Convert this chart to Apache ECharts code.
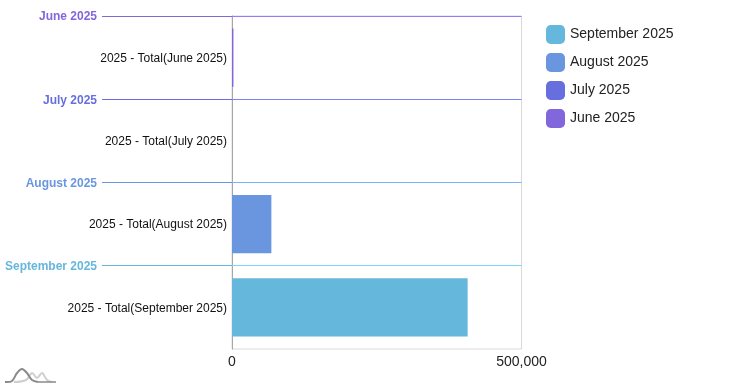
<!DOCTYPE html>
<html><head><meta charset="utf-8">
<style>html,body{margin:0;padding:0;background:#fff}#c{width:753px;height:388px}</style>
<script src="https://cdn.jsdelivr.net/npm/echarts@6/dist/echarts.min.js"></script>
</head><body><div id="c"></div>
<script>
const months = ['June 2025','July 2025','August 2025','September 2025'];
const categories = ['2025 - Total(June 2025)','2025 - Total(July 2025)','2025 - Total(August 2025)','2025 - Total(September 2025)'];
const values = [2500,0,68000,407000];
const colors = ['#8266dc','#676fdf','#6a96e0','#66b7dc'];
const legendOrder = ['September 2025','August 2025','July 2025','June 2025'];
const axisMax = 500000;
const font = '"Liberation Sans", Arial, sans-serif';

const barSeries = months.map((m,i)=>({
  name:m,type:'bar',stack:'t',barWidth:'70%',z:4,
  data:categories.map((_,j)=>j===i?values[i]:null),
  itemStyle:{color:colors[i],opacity:1},
  silent:true
}));

const headerSeries = {
  type:'custom',silent:true,clip:false,z:5,legendHoverLink:false,
  encode:{y:0},
  data:months.map((m,i)=>[categories[i],i]),
  renderItem(params,api){
    const i=api.value(1);
    const mid=api.coord([0,i]);
    const band=api.size([0,1])[1];
    const top=mid[1]-band/2;
    const y=Math.floor(top)+0.5;
    const x0=mid[0];
    const x1=api.coord([axisMax,i])[0];
    return {type:'group',silent:true,children:[
      {type:'line',shape:{x1:x0-130,y1:y,x2:x0,y2:y},style:{stroke:colors[i],lineWidth:1}},
      {type:'line',shape:{x1:x0,y1:y,x2:x1,y2:y},style:{stroke:echarts.color.lift(colors[i],-0.18),lineWidth:1}},
      {type:'text',x:x0-135,y:Math.ceil(top)+0.5,style:{text:months[i],fill:colors[i],font:'bold 12px '+font,align:'right',verticalAlign:'middle'}},
      {type:'text',x:x0-5,y:mid[1]+1,style:{text:categories[i],fill:'#111',font:'12px '+font,align:'right',verticalAlign:'middle'}}
    ]};
  }
};

const chart=echarts.init(document.getElementById('c'),null,{renderer:'canvas'});
chart.setOption({
  animation:false,
  backgroundColor:'#fff',
  textStyle:{fontFamily:font},
  grid:{left:232,top:16,width:289.5,height:333,containLabel:false},
  legend:{left:546,top:25,orient:'vertical',itemWidth:19,itemHeight:19,itemGap:9,padding:0,
    data:legendOrder,selectedMode:false,icon:'roundRect',
    itemStyle:{borderWidth:0},
    textStyle:{fontSize:14,color:'#222',fontFamily:font}},
  xAxis:{type:'value',min:0,max:axisMax,interval:axisMax,
    axisLine:{show:false},axisTick:{show:false},splitLine:{show:false},
    axisLabel:{fontSize:14,color:'#222',margin:6,fontFamily:font,
      formatter:v=>v.toLocaleString('en-US'),hideOverlap:false}},
  yAxis:{type:'category',inverse:true,data:categories,
    axisLine:{show:true,onZero:false,lineStyle:{color:'#a6a6a6',width:1}},
    axisTick:{show:false},
    axisLabel:{show:false},
    splitLine:{show:false}},
  series:[...barSeries,headerSeries],
  graphic:[
    {type:'rect',silent:true,z:-1,shape:{x:232,y:16,width:289.5,height:333},style:{fill:'none',stroke:'#d9d9d9',lineWidth:1}},
    {type:'polyline',silent:true,z:2,shape:{smooth:0.35,points:[[14,382],[26,380],[32,373],[37,378],[42,373],[47,380],[52,382]]},style:{fill:'none',stroke:'#cfcfcf',lineWidth:2}},
    {type:'polyline',silent:true,z:3,shape:{smooth:0.35,points:[[5,382],[12,381],[17,373],[22,369],[27,373],[32,380],[38,382]]},style:{fill:'none',stroke:'#8a8a8a',lineWidth:2}},
    {type:'line',silent:true,z:3,shape:{x1:38,y1:382,x2:56,y2:382},style:{stroke:'#8a8a8a',lineWidth:1.5}}
  ]
});
</script></body></html>
